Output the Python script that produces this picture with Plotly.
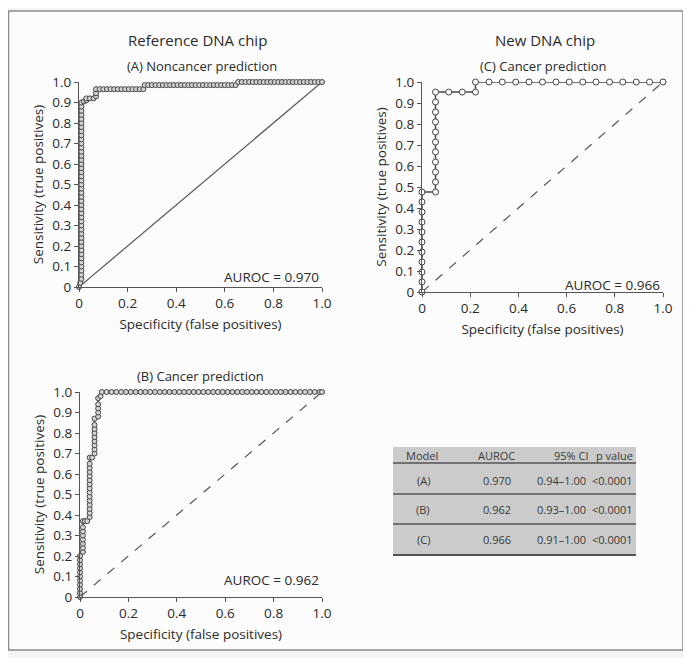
import plotly.graph_objects as go

# ---------------- data ----------------
# (A) Reference DNA chip - noncancer prediction
A_fpr = [0, 0.005, 0.01,
         0.01, 0.01, 0.01, 0.01, 0.01, 0.01, 0.01, 0.01, 0.01, 0.01, 0.01, 0.01, 0.01, 0.01, 0.01,
         0.01, 0.01, 0.01, 0.01, 0.01, 0.01, 0.01, 0.01, 0.01, 0.01, 0.01, 0.01, 0.01, 0.01, 0.01,
         0.01, 0.01, 0.01, 0.01, 0.01, 0.01, 0.01, 0.01, 0.01, 0.01, 0.01, 0.01, 0.01,
         0.02, 0.03, 0.03, 0.045, 0.06, 0.07, 0.07, 0.07,
         0.085, 0.10, 0.115, 0.13, 0.145, 0.16, 0.175, 0.19, 0.205, 0.22, 0.235, 0.25, 0.265,
         0.27, 0.285, 0.30, 0.315, 0.33, 0.345, 0.36, 0.375, 0.39, 0.405, 0.42, 0.435, 0.45, 0.465,
         0.48, 0.495, 0.51, 0.525, 0.54, 0.555, 0.57, 0.585, 0.60, 0.615, 0.63, 0.645,
         0.655, 0.67, 0.685, 0.70, 0.715, 0.73, 0.745, 0.76, 0.775, 0.79, 0.805, 0.82, 0.835,
         0.85, 0.865, 0.88, 0.895, 0.91, 0.925, 0.94, 0.955, 0.97, 0.985, 1.0]
A_tpr = [0, 0.02, 0.04,
         0.06, 0.08, 0.10, 0.12, 0.14, 0.16, 0.18, 0.20, 0.22, 0.24, 0.26, 0.28, 0.30, 0.32, 0.34,
         0.36, 0.38, 0.40, 0.42, 0.44, 0.46, 0.48, 0.50, 0.52, 0.54, 0.56, 0.58, 0.60, 0.62, 0.64,
         0.66, 0.68, 0.70, 0.72, 0.74, 0.76, 0.78, 0.80, 0.82, 0.84, 0.86, 0.88, 0.90,
         0.905, 0.91, 0.92, 0.92, 0.92, 0.93, 0.945, 0.965,
         0.965, 0.965, 0.965, 0.965, 0.965, 0.965, 0.965, 0.965, 0.965, 0.965, 0.965, 0.965, 0.965,
         0.985, 0.985, 0.985, 0.985, 0.985, 0.985, 0.985, 0.985, 0.985, 0.985, 0.985, 0.985, 0.985, 0.985,
         0.985, 0.985, 0.985, 0.985, 0.985, 0.985, 0.985, 0.985, 0.985, 0.985, 0.985, 0.985,
         1.0, 1.0, 1.0, 1.0, 1.0, 1.0, 1.0, 1.0, 1.0, 1.0, 1.0, 1.0, 1.0,
         1.0, 1.0, 1.0, 1.0, 1.0, 1.0, 1.0, 1.0, 1.0, 1.0, 1.0]

# (B) Reference DNA chip - cancer prediction
B_fpr = [0, 0, 0, 0, 0, 0, 0, 0, 0, 0, 0,
         0.012, 0.012, 0.012, 0.012, 0.012, 0.012, 0.012, 0.012,
         0.02, 0.03,
         0.04, 0.04, 0.04, 0.04, 0.04, 0.04, 0.04, 0.04, 0.04, 0.04, 0.04, 0.04, 0.04, 0.04, 0.04,
         0.05,
         0.06, 0.06, 0.06, 0.06, 0.06, 0.06, 0.06, 0.06, 0.06,
         0.075, 0.075, 0.075, 0.075, 0.075,
         0.085, 0.09,
         0.11, 0.13, 0.15, 0.17, 0.19, 0.21, 0.23, 0.25, 0.27, 0.29, 0.31, 0.33, 0.35, 0.37, 0.39,
         0.41, 0.43, 0.45, 0.47, 0.49, 0.51, 0.53, 0.55, 0.57, 0.59, 0.61, 0.63, 0.65, 0.67, 0.69,
         0.71, 0.73, 0.75, 0.77, 0.79, 0.81, 0.83, 0.85, 0.87, 0.89, 0.91, 0.93, 0.95, 0.97, 0.99, 1.0]
B_tpr = [0, 0.02, 0.04, 0.06, 0.08, 0.10, 0.12, 0.14, 0.16, 0.18, 0.20,
         0.22, 0.24, 0.26, 0.28, 0.30, 0.32, 0.34, 0.37,
         0.37, 0.37,
         0.39, 0.41, 0.43, 0.45, 0.47, 0.49, 0.51, 0.53, 0.55, 0.57, 0.59, 0.61, 0.63, 0.65, 0.68,
         0.68,
         0.70, 0.72, 0.74, 0.76, 0.78, 0.80, 0.82, 0.84, 0.87,
         0.88, 0.90, 0.92, 0.94, 0.97,
         0.98, 1.0,
         1.0, 1.0, 1.0, 1.0, 1.0, 1.0, 1.0, 1.0, 1.0, 1.0, 1.0, 1.0, 1.0, 1.0, 1.0,
         1.0, 1.0, 1.0, 1.0, 1.0, 1.0, 1.0, 1.0, 1.0, 1.0, 1.0, 1.0, 1.0, 1.0, 1.0,
         1.0, 1.0, 1.0, 1.0, 1.0, 1.0, 1.0, 1.0, 1.0, 1.0, 1.0, 1.0, 1.0, 1.0, 1.0, 1.0]

# (C) New DNA chip - cancer prediction
C_fpr = [0, 0, 0, 0, 0, 0, 0, 0, 0, 0, 0,
         0.056, 0.056, 0.056, 0.056, 0.056, 0.056, 0.056, 0.056, 0.056, 0.056, 0.056,
         0.111, 0.167, 0.222, 0.222,
         0.278, 0.333, 0.389, 0.444, 0.500, 0.556, 0.611, 0.667, 0.722, 0.778, 0.833, 0.889, 0.944, 1.0]
C_tpr = [0, 0.048, 0.095, 0.143, 0.190, 0.238, 0.286, 0.333, 0.381, 0.429, 0.476,
         0.476, 0.524, 0.571, 0.619, 0.667, 0.714, 0.762, 0.810, 0.857, 0.905, 0.952,
         0.952, 0.952, 0.952, 1.0,
         1.0, 1.0, 1.0, 1.0, 1.0, 1.0, 1.0, 1.0, 1.0, 1.0, 1.0, 1.0, 1.0, 1.0]

chance_line = [0, 1]

auroc_labels = ["AUROC = 0.970", "AUROC = 0.962", "AUROC = 0.966"]
panel_titles = ["(A) Noncancer prediction", "(B) Cancer prediction", "(C) Cancer prediction"]
group_titles = ["Reference DNA chip", "New DNA chip"]

y_tickvals = [0, 0.1, 0.2, 0.3, 0.4, 0.5, 0.6, 0.7, 0.8, 0.9, 1.0]
y_ticktext = ["0", "0.1", "0.2", "0.3", "0.4", "0.5", "0.6", "0.7", "0.8", "0.9", "1.0"]
x_tickvals = [0, 0.2, 0.4, 0.6, 0.8, 1.0]
x_ticktext = ["0", "0.2", "0.4", "0.6", "0.8", "1.0"]

table_header = ["Model", "AUROC", "95% CI", "p value"]
table_model = ["(A)", "(B)", "(C)"]
table_auroc = ["0.970", "0.962", "0.966"]
table_ci = ["0.94\u20131.00", "0.93\u20131.00", "0.91\u20131.00"]
table_p = ["<0.0001", "<0.0001", "<0.0001"]

# ---------------- layout helpers ----------------
W, H = 691, 658
OFF = 8  # the html page body adds an 8px margin
FONT = "Open Sans"
TXT = "#2a2a2a"
AX = "#555555"


def fx(px):
    return (px - OFF) / W


def fy(py):
    return 1 - (py - OFF) / H


fig = go.Figure()

curve_line = dict(color="#4a4a4a", width=1.5)


def add_roc(x, y, xa, ya, msize, dash, fill):
    fig.add_trace(go.Scatter(x=chance_line, y=chance_line, mode="lines", xaxis=xa, yaxis=ya,
                             line=dict(color="#555555", width=1.2, dash=dash),
                             showlegend=False, hoverinfo="skip"))
    fig.add_trace(go.Scatter(x=x, y=y, mode="lines+markers", xaxis=xa, yaxis=ya,
                             line=curve_line,
                             marker=dict(symbol="circle", size=msize, color=fill,
                                         line=dict(color="#444444", width=1)),
                             cliponaxis=False, showlegend=False))


add_roc(A_fpr, A_tpr, "x", "y", 5, "solid", "#d4d4d4")
add_roc(C_fpr, C_tpr, "x2", "y2", 6, "dash", "white")
add_roc(B_fpr, B_tpr, "x3", "y3", 5, "dash", "#d4d4d4")

axis_common = dict(range=[0, 1], showline=True, linecolor=AX, linewidth=1.3,
                   ticks="outside", ticklen=4, tickcolor=AX, tickwidth=1,
                   showgrid=False, zeroline=False, automargin=False,
                   tickfont=dict(family=FONT, size=13.5, color=TXT),
                   title_font=dict(family=FONT, size=13.5, color=TXT))


def xaxis(domain, anchor):
    d = dict(axis_common)
    d.update(domain=domain, anchor=anchor, tickvals=x_tickvals, ticktext=x_ticktext,
             title=dict(text="Specificity (false positives)", standoff=8))
    return d


def yaxis(domain, anchor):
    d = dict(axis_common)
    d.update(domain=domain, anchor=anchor, tickvals=y_tickvals, ticktext=y_ticktext,
             title=dict(text="Sensitivity (true positives)", standoff=5))
    return d


fig.update_layout(
    width=W, height=H,
    margin=dict(l=0, r=0, t=0, b=0),
    paper_bgcolor="#f4f4f3", plot_bgcolor="rgba(0,0,0,0)",
    font=dict(family=FONT, color=TXT),
    xaxis=xaxis([fx(79), fx(322)], "y"),
    yaxis=yaxis([fy(287), fy(82)], "x"),
    xaxis2=xaxis([fx(422), fx(663)], "y2"),
    yaxis2=yaxis([fy(292), fy(82)], "x2"),
    xaxis3=xaxis([fx(80), fx(322)], "y3"),
    yaxis3=yaxis([fy(597), fy(392)], "x3"),
)

ann = []


def text(x, y, s, size, xanchor="center", yanchor="middle", color=TXT):
    ann.append(dict(x=fx(x), y=fy(y), xref="paper", yref="paper", text=s, showarrow=False,
                    xanchor=xanchor, yanchor=yanchor,
                    font=dict(family=FONT, size=size, color=color)))


text(197, 40, group_titles[0], 15)
text(545, 40, group_titles[1], 15)
text(202, 66, panel_titles[0], 13)
text(200, 376, panel_titles[1], 13)
text(543, 66, panel_titles[2], 13)
text(321, 277, auroc_labels[0], 13.5, xanchor="right")
text(321, 580, auroc_labels[1], 13.5, xanchor="right")
text(662, 285, auroc_labels[2], 13.5, xanchor="right")

# table
TS = 11
TC = "#3a3a3a"
text(422, 455, table_header[0], TS, color=TC)
text(496, 455, table_header[1], TS, color=TC)
text(591, 455, table_header[2], TS, xanchor="right", color=TC)
text(635, 455, table_header[3], TS, xanchor="right", color=TC)
row_y = [480, 509, 539]
for i in range(3):
    text(423, row_y[i], table_model[i], TS, color=TC)
    text(513, row_y[i], table_auroc[i], TS, xanchor="right", color=TC)
    text(588, row_y[i], table_ci[i], TS, xanchor="right", color=TC)
    text(635, row_y[i], table_p[i], TS, xanchor="right", color=TC)

fig.update_layout(annotations=ann)

shapes = [
    # outer frame
    dict(type="rect", xref="paper", yref="paper", x0=fx(8.5), x1=fx(683), y0=fy(650), y1=fy(11),
         line=dict(color="#8a8a8a", width=1.5), fillcolor="#fcfcfc", layer="below"),
    # table background
    dict(type="rect", xref="paper", yref="paper", x0=fx(393), x1=fx(636), y0=fy(556), y1=fy(447),
         line=dict(width=0), fillcolor="#cbcbcb", layer="below"),
]
for ly, lw in [(463, 1.5), (494, 1.5), (524, 1.5), (555, 2)]:
    shapes.append(dict(type="line", xref="paper", yref="paper", x0=fx(393), x1=fx(636),
                       y0=fy(ly), y1=fy(ly), line=dict(color="#555555", width=lw)))
fig.update_layout(shapes=shapes)

fig.write_html("out.html")
